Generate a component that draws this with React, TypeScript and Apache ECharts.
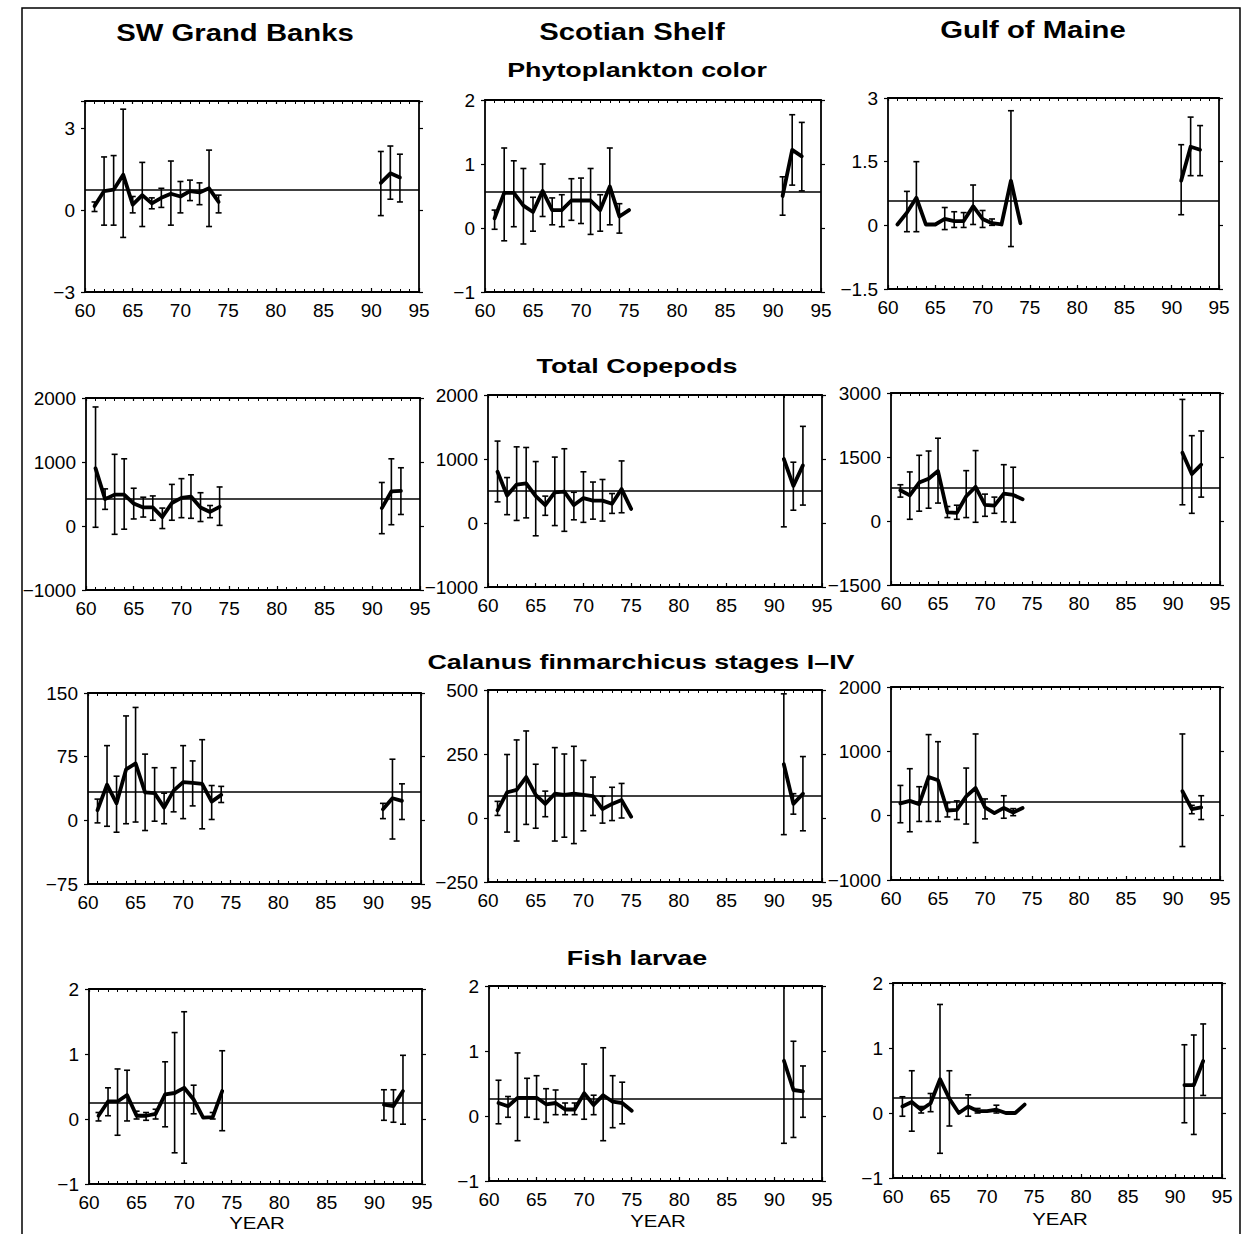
import React, { useEffect, useRef } from "react";
import * as echarts from "echarts";

type Pt = [number, number, number | null, number | null];

const COLUMN_TITLES = ["SW Grand Banks", "Scotian Shelf", "Gulf of Maine"];
const ROW_TITLES = ["Phytoplankton color", "Total Copepods", "Calanus finmarchicus stages I\u2013IV", "Fish larvae"];
const X_AXIS = { min: 60, max: 95, interval: 5 };
const X_LABEL = "YEAR";

// [year, mean value, error low, error high]
const gbPhyto: Pt[] = [
  [61, 0.15, -0.05, 0.3], [62, 0.7, -0.55, 1.95], [63, 0.75, -0.55, 2.0], [64, 1.3, -1.0, 3.7],
  [65, 0.2, -0.1, 0.5], [66, 0.55, -0.6, 1.75], [67, 0.25, 0.05, 0.45], [68, 0.45, 0.1, 0.8],
  [69, 0.6, -0.55, 1.8], [70, 0.5, -0.1, 1.05], [71, 0.7, 0.35, 1.1], [72, 0.65, 0.2, 1.0],
  [73, 0.8, -0.6, 2.2], [74, 0.3, -0.1, 0.55], [91, 1.0, -0.2, 2.15], [92, 1.35, 0.4, 2.35], [93, 1.2, 0.3, 2.05],
];
const ssPhyto: Pt[] = [
  [61, 0.15, -0.02, 0.28], [62, 0.55, -0.2, 1.25], [63, 0.55, 0.02, 1.05], [64, 0.35, -0.25, 0.93],
  [65, 0.25, -0.05, 0.48], [66, 0.58, 0.18, 1.0], [67, 0.28, 0.05, 0.47], [68, 0.28, 0.02, 0.52],
  [69, 0.43, 0.12, 0.77], [70, 0.43, 0.07, 0.78], [71, 0.43, -0.1, 0.93], [72, 0.28, -0.05, 0.52],
  [73, 0.65, 0.05, 1.25], [74, 0.18, -0.08, 0.38], [75, 0.28, null, null],
  [91, 0.5, 0.2, 0.8], [92, 1.22, 0.67, 1.77], [93, 1.12, 0.58, 1.65],
];
const gmPhyto: Pt[] = [
  [61, 0.02, null, null], [62, 0.3, -0.15, 0.8], [63, 0.65, -0.15, 1.5], [64, 0.02, null, null],
  [65, 0.02, null, null], [66, 0.15, -0.1, 0.42], [67, 0.1, -0.05, 0.32], [68, 0.1, -0.05, 0.3],
  [69, 0.45, 0.02, 0.95], [70, 0.15, -0.05, 0.35], [71, 0.05, 0.0, 0.15], [72, 0.02, null, null],
  [73, 1.05, -0.5, 2.7], [74, 0.05, null, null],
  [91, 1.05, 0.25, 1.9], [92, 1.85, 1.17, 2.55], [93, 1.78, 1.17, 2.35],
];
const gbCopepods: Pt[] = [
  [61, 900, -20, 1860], [62, 420, 260, 580], [63, 490, -130, 1120], [64, 490, -50, 1050],
  [65, 350, 110, 590], [66, 290, 140, 450], [67, 290, 90, 470], [68, 140, -40, 280],
  [69, 360, 90, 650], [70, 440, 130, 740], [71, 460, 120, 800], [72, 290, 70, 520],
  [73, 220, 130, 320], [74, 300, 10, 610], [91, 280, -120, 680], [92, 540, 20, 1050], [93, 550, 180, 910],
];
const ssCopepods: Pt[] = [
  [61, 800, 330, 1280], [62, 430, 130, 710], [63, 600, 40, 1190], [64, 620, 80, 1180],
  [65, 420, -200, 960], [66, 280, 120, 420], [67, 480, -40, 1030], [68, 490, -130, 1160],
  [69, 280, 50, 480], [70, 390, 10, 800], [71, 350, 60, 640], [72, 350, 30, 680],
  [73, 300, 150, 460], [74, 530, 160, 970], [75, 220, null, null],
  [91, 1000, -60, 2000], [92, 580, 200, 950], [93, 900, 280, 1510],
];
const gmCopepods: Pt[] = [
  [61, 720, 560, 850], [62, 600, 40, 1150], [63, 900, 230, 1540], [64, 990, 300, 1640],
  [65, 1170, 420, 1940], [66, 200, 80, 340], [67, 190, 40, 370], [68, 580, 80, 1180],
  [69, 800, -30, 1650], [70, 380, 110, 630], [71, 360, 180, 560], [72, 640, -20, 1320],
  [73, 610, -30, 1260], [74, 510, null, null],
  [91, 1600, 380, 2850], [92, 1100, 180, 2000], [93, 1320, 560, 2110],
];
const gbCalanus: Pt[] = [
  [61, 12, -3, 25], [62, 42, -7, 88], [63, 20, -14, 52], [64, 60, -4, 123],
  [65, 67, -2, 133], [66, 33, -12, 78], [67, 32, -1, 62], [68, 15, -4, 32],
  [69, 35, 10, 62], [70, 45, 2, 88], [71, 44, 17, 70], [72, 43, -10, 95],
  [73, 22, 1, 41], [74, 30, 21, 40], [91, 13, 2, 20], [92, 26, -22, 72], [93, 23, 1, 43],
];
const ssCalanus: Pt[] = [
  [61, 30, 10, 65], [62, 100, -55, 248], [63, 110, -90, 305], [64, 160, -25, 340],
  [65, 90, -40, 210], [66, 55, 5, 105], [67, 95, -90, 275], [68, 90, -75, 250],
  [69, 95, -100, 280], [70, 90, -50, 225], [71, 85, 10, 160], [72, 35, -20, 85],
  [73, 55, -10, 120], [74, 70, 0, 135], [75, 5, null, null],
  [91, 210, -65, 485], [92, 55, 15, 95], [93, 95, -50, 240],
];
const gmCalanus: Pt[] = [
  [61, 190, -110, 470], [62, 230, -250, 730], [63, 180, -90, 450], [64, 600, -90, 1260],
  [65, 550, -90, 1150], [66, 80, -20, 200], [67, 90, -60, 230], [68, 300, -130, 740],
  [69, 430, -420, 1270], [70, 130, -50, 260], [71, 40, null, null], [72, 120, -40, 310],
  [73, 50, 0, 110], [74, 120, null, null],
  [91, 380, -480, 1270], [92, 100, 30, 160], [93, 130, -60, 310],
];
const gbLarvae: Pt[] = [
  [61, 0.05, -0.03, 0.1], [62, 0.27, 0.05, 0.48], [63, 0.27, -0.25, 0.77], [64, 0.37, -0.03, 0.75],
  [65, 0.05, 0.0, 0.12], [66, 0.05, -0.02, 0.1], [67, 0.08, 0.0, 0.15], [68, 0.38, -0.12, 0.88],
  [69, 0.4, -0.52, 1.33], [70, 0.48, -0.68, 1.65], [71, 0.3, 0.08, 0.52], [72, 0.02, null, null],
  [73, 0.03, 0.0, 0.1], [74, 0.43, -0.18, 1.05],
  [91, 0.22, -0.02, 0.45], [92, 0.2, -0.05, 0.45], [93, 0.43, -0.08, 0.98],
];
const ssLarvae: Pt[] = [
  [61, 0.2, -0.12, 0.55], [62, 0.15, -0.02, 0.3], [63, 0.28, -0.38, 0.97], [64, 0.28, -0.02, 0.58],
  [65, 0.28, -0.05, 0.62], [66, 0.18, -0.1, 0.42], [67, 0.2, 0.02, 0.4], [68, 0.1, 0.02, 0.2],
  [69, 0.1, 0.02, 0.2], [70, 0.35, -0.05, 0.8], [71, 0.17, 0.02, 0.32], [72, 0.32, -0.38, 1.05],
  [73, 0.22, -0.18, 0.62], [74, 0.2, -0.12, 0.52], [75, 0.08, null, null],
  [91, 0.85, -0.42, 2.0], [92, 0.4, -0.33, 1.15], [93, 0.38, -0.02, 0.77],
];
const gmLarvae: Pt[] = [
  [61, 0.1, -0.05, 0.25], [62, 0.17, -0.28, 0.65], [63, 0.05, 0.0, 0.1], [64, 0.15, 0.02, 0.3],
  [65, 0.52, -0.62, 1.67], [66, 0.22, -0.2, 0.65], [67, 0.0, null, null], [68, 0.1, -0.05, 0.28],
  [69, 0.03, 0.0, 0.07], [70, 0.03, null, null], [71, 0.05, 0.0, 0.12], [72, 0.0, null, null],
  [73, 0.0, null, null], [74, 0.13, null, null],
  [91, 0.43, -0.15, 1.05], [92, 0.43, -0.33, 1.2], [93, 0.8, 0.27, 1.37],
];

// long-term mean reference lines
const phytoMeans = [0.75, 0.57, 0.58];
const copepodMeans = [420, 510, 780];
const calanusMeans = [34, 88, 220];
const larvaeMeans = [0.25, 0.27, 0.23];

// y-axis ranges [min, max, tick interval]
const phytoY = [[-3, 4, 3], [-1, 2, 1], [-1.5, 3, 1.5]];
const copepodY = [[-1000, 2000, 1000], [-1000, 2000, 1000], [-1500, 3000, 1500]];
const calanusY = [[-75, 150, 75], [-250, 500, 250], [-1000, 2000, 1000]];
const larvaeY = [[-1, 2, 1], [-1, 2, 1], [-1, 2, 1]];

const ROW_DATA = [
  [gbPhyto, ssPhyto, gmPhyto],
  [gbCopepods, ssCopepods, gmCopepods],
  [gbCalanus, ssCalanus, gmCalanus],
  [gbLarvae, ssLarvae, gmLarvae],
];
const ROW_MEANS = [phytoMeans, copepodMeans, calanusMeans, larvaeMeans];
const ROW_Y = [phytoY, copepodY, calanusY, larvaeY];

// layout: plot rectangles [left, right, top, bottom]
const RECTS = [
  [[85, 419, 101, 292], [485, 821, 100, 292], [888, 1219, 98, 289]],
  [[86, 420, 398, 590], [488, 822, 395, 587], [891, 1220, 393, 585]],
  [[88, 421, 693, 884], [488, 822, 690, 882], [891, 1220, 687, 880]],
  [[89, 422, 989, 1184], [489, 822, 986, 1181], [893, 1222, 983, 1178]],
];

const FONT = "'Liberation Sans', Arial, Helvetica, sans-serif";

export default function App() {
  const ref = useRef<HTMLDivElement>(null);
  useEffect(() => {
    if (!ref.current) return;
    const chart = echarts.init(ref.current, null, { renderer: "svg" });
    const grid: any[] = [];
    const xAxis: any[] = [];
    const yAxis: any[] = [];
    const series: any[] = [];
    const graphic: any[] = [];

    for (let r = 0; r < 4; r++) {
      for (let c = 0; c < 3; c++) {
        const i = r * 3 + c;
        const [l, rr, t, b] = RECTS[r][c];
        grid.push({ left: l, top: t, width: rr - l, height: b - t });
        const [ymin, ymax, yint] = ROW_Y[r][c];
        const yfmt = (v: number) => {
          const q = v / yint;
          if (Math.abs(q - Math.round(q)) > 1e-6) return "";
          return String(v).replace("-", "\u2212");
        };
        const lineAx = { lineStyle: { color: "#000", width: 1.8 } };
        xAxis.push({
          type: "value", gridIndex: i, position: "bottom", ...X_AXIS,
          axisLine: { show: true, onZero: false, ...lineAx },
          axisTick: { show: true, inside: true, length: 4, lineStyle: { color: "#000", width: 1.2 } },
          minorTick: { show: true, splitNumber: 5, length: 3, lineStyle: { color: "#000", width: 1 } },
          splitLine: { show: false },
          axisLabel: { color: "#000", fontSize: 19, fontFamily: FONT, margin: 9 },
        });
        xAxis.push({
          type: "value", gridIndex: i, position: "top", ...X_AXIS,
          axisLine: { show: true, onZero: false, ...lineAx },
          axisTick: { show: true, inside: true, length: 3, lineStyle: { color: "#000", width: 1.2 } },
          minorTick: { show: true, splitNumber: 5, length: 3, lineStyle: { color: "#000", width: 1 } },
          splitLine: { show: false },
          axisLabel: { show: false },
        });
        yAxis.push({
          type: "value", gridIndex: i, position: "left", min: ymin, max: ymax, interval: yint,
          axisLine: { show: true, onZero: false, ...lineAx },
          axisTick: { show: true, length: 4, lineStyle: { color: "#000", width: 1.2 } },
          splitLine: { show: false },
          axisLabel: { color: "#000", fontSize: 19, fontFamily: FONT, margin: 10, formatter: yfmt },
        });
        yAxis.push({
          type: "value", gridIndex: i, position: "right", min: ymin, max: ymax, interval: yint,
          axisLine: { show: true, onZero: false, ...lineAx },
          axisTick: { show: true, length: 4, lineStyle: { color: "#000", width: 1.2 } },
          splitLine: { show: false },
          axisLabel: { show: false },
        });
        const data = ROW_DATA[r][c];
        const early = data.filter((d) => d[0] < 80).map((d) => [d[0], d[1]]);
        const late = data.filter((d) => d[0] >= 80).map((d) => [d[0], d[1]]);
        const errs = data.filter((d) => d[2] !== null).map((d) => [d[0], d[2], d[3]]);
        const axes = { xAxisIndex: 2 * i, yAxisIndex: 2 * i };
        series.push({
          type: "custom", ...axes, data: errs, encode: { x: 0, y: [1, 2] }, z: 2,
          renderItem: (_p: any, api: any) => {
            const x = api.value(0);
            const lo = api.coord([x, api.value(1)]);
            const hi = api.coord([x, api.value(2)]);
            const w = 3;
            const st = { stroke: "#000", lineWidth: 1.6 };
            return {
              type: "group",
              children: [
                { type: "line", shape: { x1: lo[0], y1: lo[1], x2: hi[0], y2: hi[1] }, style: st },
                { type: "line", shape: { x1: lo[0] - w, y1: lo[1], x2: lo[0] + w, y2: lo[1] }, style: st },
                { type: "line", shape: { x1: hi[0] - w, y1: hi[1], x2: hi[0] + w, y2: hi[1] }, style: st },
              ],
            };
          },
        });
        const lineStyle = { color: "#000", width: 3.8, join: "round", cap: "round" };
        series.push({
          type: "line", ...axes, data: early, showSymbol: false, lineStyle, z: 3,
          markLine: {
            silent: true, symbol: ["none", "none"], label: { show: false },
            lineStyle: { color: "#000", width: 1.5, type: "solid" },
            data: [{ yAxis: ROW_MEANS[r][c] }],
          },
        });
        series.push({ type: "line", ...axes, data: late, showSymbol: false, lineStyle, z: 3 });
      }
    }

    const colCenters = [235, 632, 1033];
    const colY = [33, 32, 30];
    COLUMN_TITLES.forEach((t, k) => {
      graphic.push({
        type: "group", x: colCenters[k], y: colY[k], scaleX: 1.22,
        children: [{
          type: "text",
          style: { text: t, x: 0, y: 0, align: "center", verticalAlign: "middle", textAlign: "center", textVerticalAlign: "middle", font: `bold 24px ${FONT}`, fill: "#000" },
        }],
      });
    });
    const rowY = [70, 366, 662, 958];
    const rowX = [637, 637, 641, 637];
    ROW_TITLES.forEach((t, k) => {
      graphic.push({
        type: "group", x: rowX[k], y: rowY[k], scaleX: 1.28,
        children: [{
          type: "text",
          style: { text: t, x: 0, y: 0, align: "center", verticalAlign: "middle", textAlign: "center", textVerticalAlign: "middle", font: `bold 21px ${FONT}`, fill: "#000" },
        }],
      });
    });
    [257, 658, 1060].forEach((cx, k) => {
      graphic.push({
        type: "group", x: cx, y: [1223, 1221, 1219][k], scaleX: 1.2,
        children: [{
          type: "text",
          style: { text: X_LABEL, x: 0, y: 0, align: "center", verticalAlign: "middle", textAlign: "center", textVerticalAlign: "middle", font: `17px ${FONT}`, fill: "#000" },
        }],
      });
    });
    graphic.push({
      type: "rect", shape: { x: 22, y: 8, width: 1218, height: 1240 },
      style: { fill: "none", stroke: "#000", lineWidth: 1.5 }, z: -1,
    });

    chart.setOption({
      animation: false,
      backgroundColor: "#fff",
      grid, xAxis, yAxis, series, graphic,
    });
    return () => chart.dispose();
  }, []);
  return <div ref={ref} style={{ position: "absolute", left: 0, top: 0, width: 1244, height: 1234 }} />;
}
